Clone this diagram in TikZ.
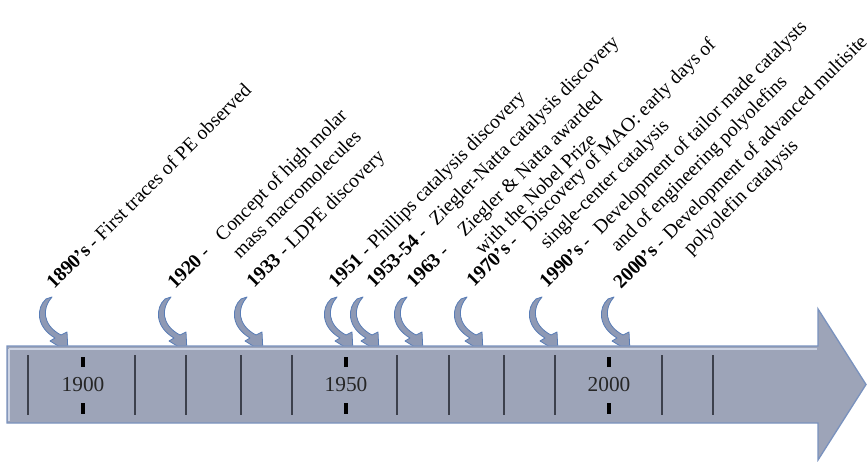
\documentclass[tikz,border=0pt]{standalone}
\usepackage{fontspec}
\setmainfont{Liberation Serif}
\usepackage{tikz}
\usetikzlibrary{calc}
\usepackage{xcolor}
\definecolor{barfill}{RGB}{157,164,184}
\definecolor{barline}{RGB}{122,146,190}
\definecolor{barlight}{RGB}{204,211,227}
\definecolor{arrowfill}{RGB}{142,153,180}
\definecolor{arrowline}{RGB}{88,124,182}
\definecolor{sepgray}{RGB}{60,64,76}
\tikzset{
  bend arrow/.pic={
    \filldraw[draw=arrowline, fill=arrowfill, line width=0.6pt, line join=round]
      (-21,47) -- (-15,49) .. controls (-25,38) and (-25,21) .. (-6,11)
      -- (0,14) -- (1,-6) -- (-17,5) -- (-12,8)
      .. controls (-31,19) and (-31,38) .. (-21,47) -- cycle;
  },
  event/.style={rotate=45, anchor=base west, inner sep=0pt,
    font=\fontsize{14.7}{18.5}\selectfont},
  yearlabel/.style={font=\fontsize{16}{19}\selectfont, text=black!85, inner sep=1pt},
  decade/.style={sepgray, line width=1.5pt},
  yeartick/.style={black, line width=2.4pt},
}

\begin{document}
\begin{tikzpicture}[x=0.75pt, y=0.75pt]

%%%%%%%%%%%%%%%%%%%%%%%%%%%%%%%%%%%%%%%%%%%%%%%%%%%%%%%%%%%%%% Setup
\coordinate (C) at (0, 0);
% fixed frame, same as the original picture
\useasboundingbox ($(C)+(0,0)$) rectangle ($(C)+(867,461)$);

%%%%%%%%%%%%%%%%%%%%%%%%%%%%%%%%%%%%%%%%%%%%%%%%%%%%%%%%%%%%%% Event arrows
\pic at ($(C)+(67,115)$)  {bend arrow};
\pic at ($(C)+(186,115)$) {bend arrow};
\pic at ($(C)+(262,115)$) {bend arrow};
\pic at ($(C)+(352,115)$) {bend arrow};
\pic at ($(C)+(378,115)$) {bend arrow};
\pic at ($(C)+(422,115)$) {bend arrow};
\pic at ($(C)+(482,115)$) {bend arrow};
\pic at ($(C)+(557,115)$) {bend arrow};
\pic at ($(C)+(629,115)$) {bend arrow};

%%%%%%%%%%%%%%%%%%%%%%%%%%%%%%%%%%%%%%%%%%%%%%%%%%%%%%%%%%%%%% Time bar
\filldraw[draw=barline, fill=barfill, line width=1pt]
  ($(C)+(7,115)$) -- ($(C)+(818,115)$) -- ($(C)+(818,152)$) -- ($(C)+(866,76.5)$)
  -- ($(C)+(818,1)$) -- ($(C)+(818,38)$) -- ($(C)+(7,38)$) -- cycle;
\draw[barlight, line width=1.8pt] ($(C)+(8.5,112)$) -- ($(C)+(817,112)$);
\draw[barlight, line width=1.2pt] ($(C)+(9,112)$) -- ($(C)+(9,40)$);

\draw[decade] ($(C)+(28,106)$)  -- ($(C)+(28,46)$);
\draw[decade] ($(C)+(135,106)$) -- ($(C)+(135,46)$);
\draw[decade] ($(C)+(186,106)$) -- ($(C)+(186,46)$);
\draw[decade] ($(C)+(241,106)$) -- ($(C)+(241,46)$);
\draw[decade] ($(C)+(292,106)$) -- ($(C)+(292,46)$);
\draw[decade] ($(C)+(397,106)$) -- ($(C)+(397,46)$);
\draw[decade] ($(C)+(449,106)$) -- ($(C)+(449,46)$);
\draw[decade] ($(C)+(504,106)$) -- ($(C)+(504,46)$);
\draw[decade] ($(C)+(555,106)$) -- ($(C)+(555,46)$);
\draw[decade] ($(C)+(662,106)$) -- ($(C)+(662,46)$);
\draw[decade] ($(C)+(713,106)$) -- ($(C)+(713,46)$);

\draw[yeartick] ($(C)+(83,104)$)  -- ($(C)+(83,94)$);
\draw[yeartick] ($(C)+(83,58)$)   -- ($(C)+(83,47)$);
\draw[yeartick] ($(C)+(346,104)$) -- ($(C)+(346,94)$);
\draw[yeartick] ($(C)+(346,58)$)  -- ($(C)+(346,47)$);
\draw[yeartick] ($(C)+(609,104)$) -- ($(C)+(609,94)$);
\draw[yeartick] ($(C)+(609,58)$)  -- ($(C)+(609,47)$);

\node[yearlabel] (y1900) at ($(C)+(83,76)$)  {1900};
\node[yearlabel] (y1950) at ($(C)+(346,76)$) {1950};
\node[yearlabel] (y2000) at ($(C)+(609,76)$) {2000};

%%%%%%%%%%%%%%%%%%%%%%%%%%%%%%%%%%%%%%%%%%%%%%%%%%%%%%%%%%%%%% Events
\node[event] (e1890) at ($(C)+(54,171)$)
  {\textbf{1890's} - First traces of PE observed};
\node[event] (e1920) at ($(C)+(175,171)$)
  {\begin{tabular}[t]{@{}l@{\hspace{0.85em}}l@{}}\textbf{1920} - & Concept of high molar\\ & mass macromolecules\end{tabular}};
\node[event] (e1933) at ($(C)+(254,172)$)
  {\textbf{1933} - LDPE discovery};
\node[event] (e1951) at ($(C)+(336,172)$)
  {\textbf{1951} - Phillips catalysis discovery};
\node[event] (e1953) at ($(C)+(374,172)$)
  {\textbf{1953-54} -\hspace{0.6em}Ziegler-Natta catalysis discovery};
\node[event] (e1963) at ($(C)+(414,172)$)
  {\begin{tabular}[t]{@{}l@{\hspace{1.1em}}l@{}}\textbf{1963} - & Ziegler \& Natta awarded\\ & with the Nobel Prize\end{tabular}};
\node[event] (e1970) at ($(C)+(474,173)$)
  {\begin{tabular}[t]{@{}l@{\hspace{0.75em}}l@{}}\textbf{1970's} - & Discovery of MAO: early days of\\ & single-center catalysis\end{tabular}};
\node[event] (e1990) at ($(C)+(547,172)$)
  {\begin{tabular}[t]{@{}l@{\hspace{0.6em}}l@{}}\textbf{1990's} - & Development of tailor made catalysts\\ & and of engineering polyolefins\end{tabular}};
\node[event] (e2000) at ($(C)+(621,171)$)
  {\begin{tabular}[t]{@{}l@{\hspace{0.3em}}l@{}}\textbf{2000's} - & Development of advanced multisite\\ & \hspace{0.2em}polyolefin catalysis\end{tabular}};

\end{tikzpicture}
\end{document}
